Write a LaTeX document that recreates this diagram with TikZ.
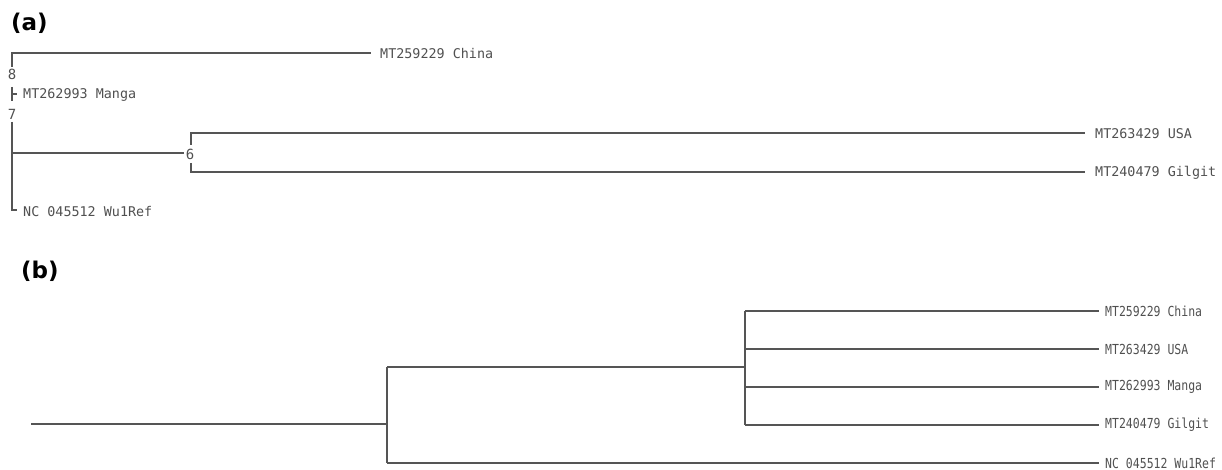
\documentclass[tikz,border=0pt]{standalone}
\usepackage{fontspec}
\usepackage{graphicx}
\setmainfont{DejaVu Sans}
\newfontfamily\monof{DejaVu Sans Mono}
\newfontfamily\labf{DejaVu Sans}
\definecolor{linec}{HTML}{555555}
\definecolor{textc}{HTML}{505050}
\newcommand{\tallB}[1]{\scalebox{1}[1.2]{#1}}
\begin{document}
\begin{tikzpicture}[x=1pt,y=-1pt,
  br/.style={draw=linec,line width=1.4pt},
  leafA/.style={anchor=west,inner sep=0pt,text=textc,font=\monof\fontsize{13.4}{14}\selectfont},
  leafB/.style={anchor=west,inner sep=0pt,text=textc,font=\monof\fontsize{11.5}{13}\selectfont},
  numlab/.style={inner sep=0pt,text=textc,font=\monof\fontsize{14}{15}\selectfont},
  panel/.style={anchor=west,inner sep=0pt,text=black,font=\labf\bfseries\fontsize{23}{26}\selectfont}]
\useasboundingbox (0,0) rectangle (1222,470);
% ---------- panel labels
\node[panel] (pa) at (11,23) {(a)};
\node[panel] (pb) at (21,271) {(b)};
% ---------- panel (a)
\coordinate (a8) at (12,53);
\coordinate (a8b) at (12,67);
\coordinate (a8e) at (371,53);
\node[numlab] (n8) at (12,74) {8};
\coordinate (am1) at (12,87);
\coordinate (am2) at (12,101);
\coordinate (amt) at (12,94);
\coordinate (amtt) at (17,94);
\node[numlab] (n7) at (12,114) {7};
\coordinate (a7) at (12,122);
\coordinate (a7e) at (12,210);
\coordinate (a7j) at (12,153);
\coordinate (a6l) at (184,153);
\node[numlab] (n6) at (190,154) {6};
\coordinate (a6t) at (191,133);
\coordinate (a6tm) at (191,145);
\coordinate (a6bm) at (191,163);
\coordinate (a6b) at (191,172);
\node[leafA] (chinaA) at (380,54) {MT259229 China};
\node[leafA] (mangaA) at (23,95) {MT262993 Manga};
\node[leafA] (wuA) at (23,212) {NC 045512 Wu1Ref};
\node[leafA] (usaA) at (1095,134) {MT263429 USA};
\node[leafA] (gilA) at (1095,173) {MT240479 Gilgit};
\draw[br] (a8b) -- (a8) -- (a8e);
\draw[br] (am1) -- (am2);
\draw[br] (amt) -- (amtt);
\draw[br] (a7) -- (a7e) -- ++(5,0);
\draw[br] (a7j) -- (a6l);
\draw[br] (a6tm) -- (a6t) -- (1085,133);
\draw[br] (a6bm) -- (a6b) -- (1085,172);
% ---------- panel (b)
\coordinate (rootB) at (31,424);
\coordinate (b1) at (387,424);
\coordinate (b1t) at (387,367);
\coordinate (b1b) at (387,463);
\coordinate (b2) at (745,367);
\coordinate (b2t) at (745,311);
\coordinate (b2b) at (745,425);
\node[leafB] (chinaB) at (1105,311) {\tallB{MT259229 China}};
\node[leafB] (usaB) at (1105,349) {\tallB{MT263429 USA}};
\node[leafB] (mangaB) at (1105,387) {\tallB{MT262993 Manga}};
\node[leafB] (gilB) at (1105,425) {\tallB{MT240479 Gilgit}};
\node[leafB] (wuB) at (1105,463) {\tallB{NC 045512 Wu1Ref}};
\draw[br] (rootB) -- (b1);
\draw[br] (b1t) -- (b1b);
\draw[br] (b1t) -- (b2);
\draw[br] (b2t) -- (b2b);
\draw[br] (b2t) -- ([xshift=-6pt]chinaB.west |- b2t);
\draw[br] (745,349) -- ([xshift=-6pt]usaB.west);
\draw[br] (745,387) -- ([xshift=-6pt]mangaB.west);
\draw[br] (b2b) -- ([xshift=-6pt]gilB.west |- b2b);
\draw[br] (b1b) -- ([xshift=-6pt]wuB.west |- b1b);
\end{tikzpicture}
\end{document}
